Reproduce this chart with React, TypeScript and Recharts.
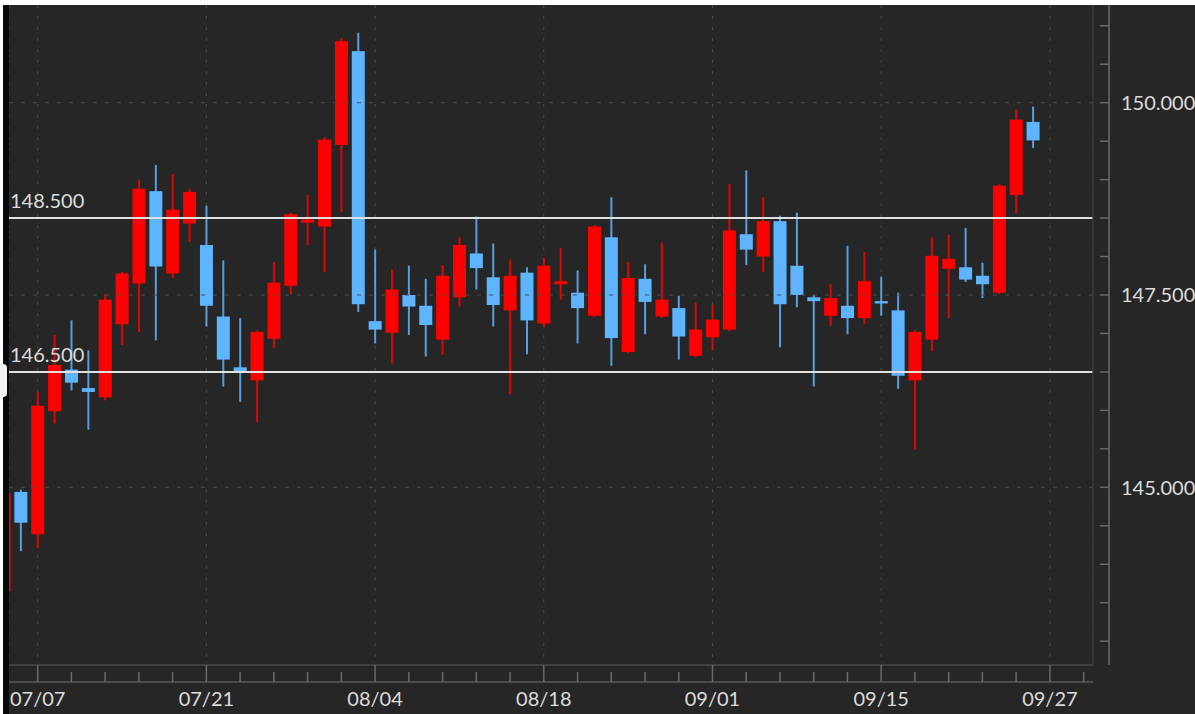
import { ComposedChart, Bar, XAxis, YAxis, CartesianGrid, ReferenceLine } from "recharts";

// daily candles, 07/03 .. 09/26
const dates = [
  "07/03", "07/04",
  "07/07", "07/08", "07/09", "07/10", "07/11",
  "07/14", "07/15", "07/16", "07/17", "07/18",
  "07/21", "07/22", "07/23", "07/24", "07/25",
  "07/28", "07/29", "07/30", "07/31", "08/01",
  "08/04", "08/05", "08/06", "08/07", "08/08",
  "08/11", "08/12", "08/13", "08/14", "08/15",
  "08/18", "08/19", "08/20", "08/21", "08/22",
  "08/25", "08/26", "08/27", "08/28", "08/29",
  "09/01", "09/02", "09/03", "09/04", "09/05",
  "09/08", "09/09", "09/10", "09/11", "09/12",
  "09/15", "09/16", "09/17", "09/18", "09/19",
  "09/22", "09/23", "09/24", "09/25", "09/26",
];

const opens = [
  143.65, 144.94,
  144.39, 145.99, 146.53, 146.29, 146.17,
  147.12, 147.65, 148.85, 147.78, 148.43,
  148.15, 147.22, 146.56, 146.39, 146.93,
  147.62, 148.44, 148.39, 149.45, 150.67,
  147.16, 147.01, 147.5, 147.36, 146.92,
  147.47, 148.04, 147.73, 147.3, 147.79,
  147.13, 147.64, 147.53, 147.23, 148.25,
  146.76, 147.71, 147.22, 147.33, 146.71,
  146.95, 147.05, 148.29, 148.0, 148.46,
  147.88, 147.47, 147.23, 147.36, 147.2,
  147.42, 147.3, 146.39, 146.92, 147.84,
  147.86, 147.75, 147.53, 148.8, 149.75,
];

const highs = [
  144.95, 144.97,
  146.24, 146.98, 147.17, 146.78, 147.51,
  147.8, 149.0, 149.19, 149.07, 148.88,
  148.66, 147.95, 147.2, 147.04, 147.93,
  148.57, 148.8, 149.55, 150.84, 150.91,
  148.09, 147.83, 147.88, 147.71, 147.89,
  148.25, 148.52, 148.17, 147.96, 147.86,
  147.98, 148.11, 147.82, 148.41, 148.77,
  147.93, 147.9, 148.18, 147.49, 147.4,
  147.37, 148.94, 149.12, 148.77, 148.53,
  148.57, 147.5, 147.64, 148.14, 148.06,
  147.74, 147.53, 147.04, 148.25, 148.28,
  148.37, 147.92, 148.94, 149.91, 149.95,
];

const lows = [
  143.6, 144.17,
  144.21, 145.83, 146.26, 145.75, 146.13,
  146.85, 147.02, 146.91, 147.72, 148.19,
  147.09, 146.31, 146.11, 145.85, 146.81,
  147.51, 148.15, 147.8, 148.58, 147.28,
  146.87, 146.61, 146.98, 146.7, 146.72,
  147.35, 147.57, 147.09, 146.21, 146.73,
  147.08, 147.44, 146.87, 147.21, 146.58,
  146.74, 146.99, 147.2, 146.66, 146.69,
  146.78, 147.03, 147.89, 147.8, 146.82,
  147.34, 146.31, 147.1, 146.99, 147.12,
  147.23, 146.28, 145.49, 146.77, 147.2,
  147.67, 147.46, 147.51, 148.56, 149.41,
];

const closes = [
  144.92, 144.54,
  146.06, 146.59, 146.36, 146.24, 147.44,
  147.78, 148.88, 147.87, 148.61, 148.84,
  147.36, 146.66, 146.5, 147.02, 147.66,
  148.55, 148.48, 149.52, 150.8, 147.38,
  147.05, 147.57, 147.35, 147.11, 147.75,
  148.15, 147.85, 147.37, 147.75, 147.17,
  147.88, 147.68, 147.33, 148.39, 146.94,
  147.72, 147.41, 147.44, 146.96, 147.05,
  147.18, 148.34, 148.09, 148.46, 147.38,
  147.5, 147.42, 147.46, 147.2, 147.68,
  147.39, 146.45, 147.02, 148.01, 147.97,
  147.7, 147.64, 148.92, 149.78, 149.51,
];

const majorTicks = [2, 12, 22, 32, 42, 52, 62];
const majorLabels = ["07/07", "07/21", "08/04", "08/18", "09/01", "09/15", "09/27"];
const minorTicks = [2, 4, 6, 8, 10, 12, 14, 16, 18, 20, 22, 24, 26, 28, 30, 32, 34, 36, 38, 40, 42, 44, 46, 48, 50, 52, 54, 56, 58, 60, 62, 64];
const priceTicks = [143, 143.5, 144, 144.5, 145, 145.5, 146, 146.5, 147, 147.5, 148, 148.5, 149, 149.5, 150, 150.5, 151];
const priceLabels = [145, 147.5, 150];
const levels = [148.5, 146.5];

const RED = "#ff0000";
const BLUE = "#5fb4ff";
const BG = "#262626";
const AXIS = "#6a6a6a";
const GRID = "#4c4c4c";
const TEXT = "#dcdcdc";
const FONT = "Lato, 'Open Sans', sans-serif";

const chartData = dates.map((d, i) => ({
  i,
  date: d,
  open: opens[i],
  high: highs[i],
  low: lows[i],
  close: closes[i],
  range: [lows[i], highs[i]],
}));

function Candle(props: any) {
  const { x, y, width, height, payload } = props;
  const { open, close, high, low } = payload;
  const top = Math.min(y, y + height);
  const h = Math.abs(height);
  const k = h / (high - low);
  const py = (v: number) => top + (high - v) * k;
  const cx = x + width / 2;
  const color = close >= open ? RED : BLUE;
  const bTop = py(Math.max(open, close));
  const bBot = py(Math.min(open, close));
  return (
    <g>
      <line x1={cx} x2={cx} y1={top} y2={top + h} stroke={color} strokeWidth={2} strokeOpacity={0.85} />
      <rect x={x} y={bTop} width={width} height={Math.max(bBot - bTop, 2)} fill={color} />
    </g>
  );
}

function TickMark(props: any) {
  const { x, y, payload } = props;
  const major = majorTicks.includes(payload.value);
  return <line x1={x} x2={x} y1={major ? y : y + 7} y2={y + 17} stroke={AXIS} strokeWidth={1.5} />;
}

function DateTick(props: any) {
  const { x, y, payload } = props;
  const idx = majorTicks.indexOf(payload.value);
  return (
    <text x={x} y={y + 24} textAnchor="middle" fill={TEXT} fontSize={20} fontFamily={FONT}>
      {majorLabels[idx]}
    </text>
  );
}

function PriceTick(props: any) {
  const { x, y, payload } = props;
  const show = priceLabels.includes(payload.value);
  return (
    <g>
      <line x1={x - 9} x2={x} y1={y} y2={y} stroke={AXIS} strokeWidth={1.5} />
      {show && (
        <text x={x + 12} y={y} dy="0.36em" fill={TEXT} fontSize={20} fontFamily={FONT}>
          {payload.value.toFixed(3)}
        </text>
      )}
    </g>
  );
}

function LevelLabel(props: any) {
  const { viewBox, value } = props;
  return (
    <text x={viewBox.x + 1} y={viewBox.y - 10} fill={TEXT} fontSize={20} fontFamily={FONT}>
      {value}
    </text>
  );
}

export default function App() {
  return (
    <div style={{ position: "absolute", left: 0, top: 0, width: 1195, height: 714, background: "#fff", overflow: "hidden" }}>
      <div style={{ position: "absolute", left: 3, top: 5, width: 6, height: 709, background: "#080808" }} />
      <div style={{ position: "absolute", left: 9, top: 5, width: 1186, height: 709, background: BG }}>
        <ComposedChart width={1186} height={709} data={chartData} margin={{ top: 0, right: 0, bottom: 0, left: 0 }}>
          <XAxis
            xAxisId="a"
            dataKey="i"
            type="number"
            domain={[0.3, 64.555]}
            allowDataOverflow
            ticks={minorTicks}
            interval={0}
            height={17}
            tickSize={0}
            tickMargin={0}
            tickLine={false}
            axisLine={{ stroke: "#4a4a4a", strokeWidth: 1.5 }}
            tick={<TickMark />}
          />
          <XAxis
            xAxisId="b"
            dataKey="i"
            type="number"
            domain={[0.3, 64.555]}
            allowDataOverflow
            ticks={majorTicks}
            interval={0}
            height={32}
            tickSize={0}
            tickMargin={0}
            tickLine={false}
            axisLine={{ stroke: "#5a5a5a", strokeWidth: 1.5 }}
            tick={<DateTick />}
          />
          <YAxis
            yAxisId="p"
            orientation="right"
            type="number"
            domain={[142.69, 151.27]}
            allowDataOverflow
            ticks={priceLabels}
            width={16}
            tick={false}
            tickLine={false}
            axisLine={{ stroke: "#3a3a3a", strokeWidth: 1.5 }}
          />
          <YAxis
            yAxisId="s"
            orientation="right"
            type="number"
            domain={[142.69, 151.27]}
            allowDataOverflow
            ticks={priceTicks}
            interval={0}
            width={86}
            tickSize={0}
            tickMargin={0}
            tickLine={false}
            axisLine={{ stroke: AXIS, strokeWidth: 1.5 }}
            tick={<PriceTick />}
          />
          <CartesianGrid xAxisId="b" yAxisId="p" horizontal={false} stroke={GRID} strokeDasharray="3 8" />
          {priceLabels.map((v) => (
            <ReferenceLine key={"g" + v} xAxisId="a" yAxisId="p" y={v} stroke={GRID} strokeDasharray="4 8" />
          ))}
          {levels.map((v) => (
            <ReferenceLine
              key={v}
              xAxisId="a"
              yAxisId="p"
              y={v}
              stroke="#e0e0e0"
              strokeWidth={2}
              label={(p: any) => <LevelLabel {...p} value={v.toFixed(3)} />}
            />
          ))}
          <Bar
            xAxisId="a"
            yAxisId="p"
            dataKey="range"
            barSize={13}
            isAnimationActive={false}
            shape={(p: any) => <Candle {...p} />}
          />
        </ComposedChart>
      </div>
      <div style={{ position: "absolute", left: 0, top: 364, width: 7, height: 33, background: "#f2f2f2", borderRadius: "0 4px 4px 0" }} />
    </div>
  );
}
